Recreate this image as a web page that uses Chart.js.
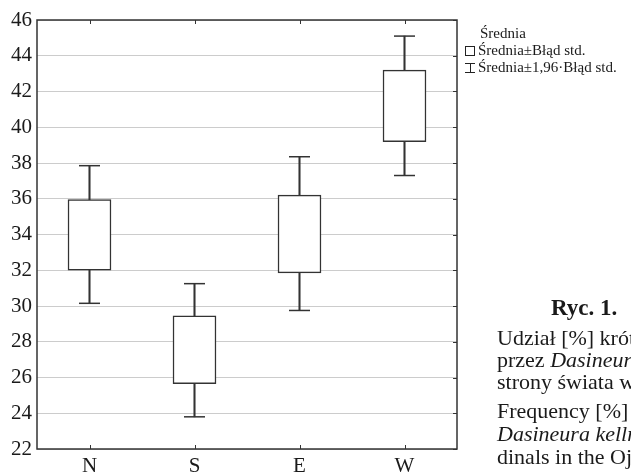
<!DOCTYPE html>
<html lang="pl">
<head>
<meta charset="utf-8">
<script src="https://cdn.jsdelivr.net/npm/chart.js@4"></script>
<style>
  html, body { margin: 0; padding: 0; background: #fff; }
  #wrap { position: relative; width: 631px; height: 475px; overflow: hidden; font-family: "Liberation Serif", serif; color: #1a1a1a; }
  #chart { position: absolute; left: 0; top: 0; }
  .t { position: absolute; white-space: nowrap; line-height: 22px; }
  .leg { position: absolute; left: 465px; font-size: 15px; line-height: 17px; white-space: nowrap; }
  .sq { display: inline-block; width: 8px; height: 8px; border: 1px solid #222; margin-right: 3px; vertical-align: -1px; }
  .ib { display: inline-block; position: relative; width: 10px; height: 10px; margin-right: 3px; border-top: 1px solid #222; border-bottom: 1px solid #222; vertical-align: -1px; box-sizing: border-box; }
  .ib::after { content: ""; position: absolute; left: 4.5px; top: 0; width: 1px; height: 8px; background: #222; }
  .cap { font-size: 22px; left: 497px; }
</style>
</head>
<body>
<div id="wrap">
  <canvas id="chart" width="631" height="475"></canvas>

  <div class="leg" style="top:25px; left:480px;">Średnia</div>
  <div class="leg" style="top:42px;"><span class="sq"></span>Średnia±Błąd std.</div>
  <div class="leg" style="top:59px;"><span class="ib"></span>Średnia±1,96·Błąd std.</div>

  <div class="t" style="left:551px; top:297px; font-size:23px; font-weight:bold;">Ryc. 1.</div>
  <div class="t cap" style="top:327px;">Udział [%] krótkopędów</div>
  <div class="t cap" style="top:349px;">przez <i>Dasineura</i></div>
  <div class="t cap" style="top:371px;">strony świata w</div>
  <div class="t cap" style="top:400px;">Frequency [%]</div>
  <div class="t cap" style="top:423px;"><i>Dasineura kellneri</i></div>
  <div class="t cap" style="top:446px;">dinals in the Ojców</div>
</div>

<script>
// categories and values
const categories = ["N", "S", "E", "W"];
const ciLow  = [30.15, 23.8, 29.75, 37.3];   // mean - 1.96 SE
const seLow  = [32.0, 25.65, 31.85, 39.2];   // mean - SE
const seHigh = [35.95, 29.45, 36.2, 43.2];   // mean + SE
const ciHigh = [37.85, 31.25, 38.35, 45.1];  // mean + 1.96 SE
const yTicks = { min: 22, max: 46, step: 2 };

const INK = "#333";
const FONT = "'Liberation Serif', serif";

// frame with inward tick marks, like the original Statistica plot
const framePlugin = {
  id: "frame",
  afterDraw(chart) {
    const { ctx, chartArea: a, scales } = chart;
    ctx.save();
    ctx.strokeStyle = INK;
    ctx.lineWidth = 1.5;
    ctx.strokeRect(a.left, a.top, a.right - a.left, a.bottom - a.top);
    ctx.lineWidth = 1;
    ctx.beginPath();
    scales.x.ticks.forEach((_, i) => {
      const px = Math.round(scales.x.getPixelForTick(i)) + 0.5;
      ctx.moveTo(px, a.top); ctx.lineTo(px, a.top + 4);
      ctx.moveTo(px, a.bottom); ctx.lineTo(px, a.bottom - 4);
    });
    scales.y.ticks.forEach((_, i) => {
      const py = Math.round(scales.y.getPixelForTick(i)) + 0.5;
      ctx.moveTo(a.right, py); ctx.lineTo(a.right - 4, py);
    });
    ctx.stroke();
    ctx.restore();
  }
};

new Chart(document.getElementById("chart"), {
  type: "bar",
  data: {
    labels: categories,
    datasets: [
      {
        label: "Średnia±Błąd std.",
        data: categories.map((_, i) => [seLow[i], seHigh[i]]),
        backgroundColor: "#fff",
        borderColor: INK,
        borderWidth: 1.5,
        borderSkipped: false,
        barThickness: 43,
        grouped: false,
      },
      {
        label: "whisker",
        data: categories.map((_, i) => [ciLow[i], ciHigh[i]]),
        backgroundColor: INK,
        borderWidth: 0,
        barThickness: 1.4,
        grouped: false,
      },
      {
        type: "line",
        label: "cap high",
        data: ciHigh,
        showLine: false,
        pointStyle: "line",
        pointRadius: 10.5,
        pointBorderWidth: 1.5,
        pointBorderColor: INK,
      },
      {
        type: "line",
        label: "cap low",
        data: ciLow,
        showLine: false,
        pointStyle: "line",
        pointRadius: 10.5,
        pointBorderWidth: 1.5,
        pointBorderColor: INK,
      },
    ],
  },
  options: {
    responsive: false,
    animation: false,
    events: [],
    devicePixelRatio: 1,
    layout: { padding: { top: 20, right: 174, left: 0, bottom: 0 } },
    plugins: { legend: { display: false }, tooltip: { enabled: false } },
    scales: {
      x: {
        offset: true,
        grid: { display: false, drawTicks: false },
        border: { display: false },
        ticks: { color: "#1a1a1a", font: { family: FONT, size: 21 }, padding: 5 },
        afterFit(scale) { scale.height = 26; },
      },
      y: {
        min: yTicks.min,
        max: yTicks.max,
        grid: { color: "#cccccc", lineWidth: 1, drawTicks: false },
        border: { display: false },
        ticks: { stepSize: yTicks.step, color: "#1a1a1a", font: { family: FONT, size: 21 }, padding: 5 },
        afterFit(scale) { scale.width = 37; },
      },
    },
  },
  plugins: [framePlugin],
});
</script>
</body>
</html>
